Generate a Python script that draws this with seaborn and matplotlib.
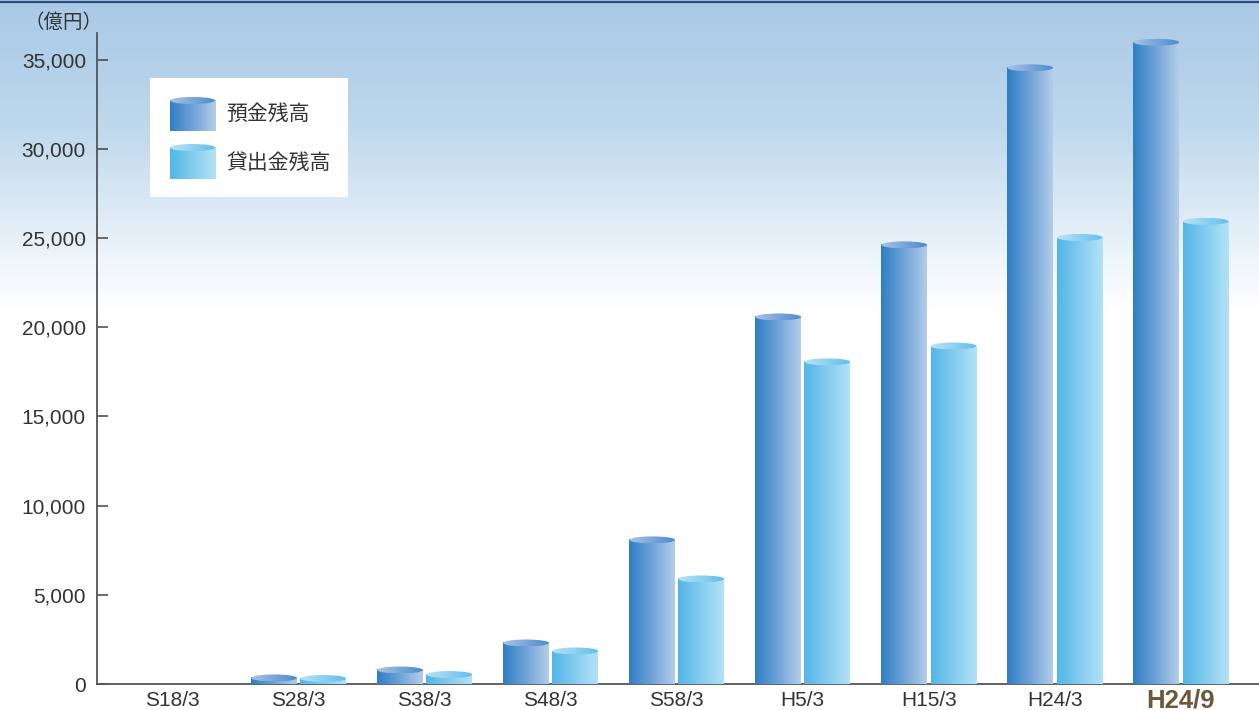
import numpy as np
import pandas as pd
import matplotlib
matplotlib.use("Agg")
import matplotlib.pyplot as plt
import matplotlib.transforms as mtransforms
import seaborn as sns
from matplotlib.colors import to_rgb
from matplotlib.patches import Ellipse, Rectangle
from matplotlib.ticker import FuncFormatter

# ---------------- data ----------------
categories = ["S18/3", "S28/3", "S38/3", "S48/3", "S58/3", "H5/3", "H15/3", "H24/3", "H24/9"]
deposits = [0, 340, 785, 2300, 8080, 20580, 24620, 34550, 35980]
loans = [0, 310, 530, 1850, 5890, 18060, 18950, 25040, 25940]
series = ["預金残高", "貸出金残高"]
yticks = [0, 5000, 10000, 15000, 20000, 25000, 30000, 35000]
unit_label = "（億円）"

# ---------------- style ----------------
sns.set_style("white")
plt.rcParams["font.family"] = ["Liberation Sans", "Noto Sans CJK JP", "DejaVu Sans"]

W, H = 1259, 710
fig = plt.figure(figsize=(W / 100, H / 100), dpi=100)

# background gradient (sky)
bg = fig.add_axes([0, 0, 1, 1], zorder=0)
stops_y = [0, 120, 200, 260, 310, H]
stops_c = ["#a9c9e6", "#bdd7ec", "#d9e8f4", "#eff5fb", "#ffffff", "#ffffff"]
ys = np.arange(H)
cols = np.array([to_rgb(c) for c in stops_c])
img = np.stack([np.interp(ys, stops_y, cols[:, k]) for k in range(3)], axis=-1)
img = np.repeat(img[:, None, :], 4, axis=1)
bg.imshow(img, extent=[0, W, H, 0], aspect="auto", interpolation="bilinear")
bg.plot([0, W], [1.5, 1.5], color="#2d4a7a", lw=1.6)
bg.set_xlim(0, W)
bg.set_ylim(H, 0)
bg.axis("off")

# main axes
ax = fig.add_axes([97 / W, 26 / H, 1 - 97 / W, 651 / H], zorder=1)
ax.patch.set_alpha(0)

df = pd.DataFrame({
    "cat": categories * 2,
    "series": [series[0]] * len(categories) + [series[1]] * len(categories),
    "value": deposits + loans,
})
body_grad = {
    0: ["#2e7fc4", "#6fa3d8", "#b3cde9"],
    1: ["#52b6e7", "#85ccef", "#b1e2f7"],
}
top_grad = {
    0: ["#a9c3e4", "#7ba6da", "#4a8ccf"],
    1: ["#b8e3f7", "#8fd1f1", "#60bfe9"],
}
sns.barplot(data=df, x="cat", y="value", hue="series", order=categories,
            hue_order=series, width=0.78, gap=0.07, saturation=1,
            palette=["#2e7fc4", "#52b6e7"], legend=False, ax=ax)


def grad_array(clist, n=64):
    c = np.array([to_rgb(x) for x in clist])
    t = np.linspace(0, 1, n)
    pos = np.linspace(0, 1, len(clist))
    return np.stack([np.interp(t, pos, c[:, k]) for k in range(3)], axis=-1)[None, :, :]


ell_h = 390  # data units (~7 px)
for si, cont in enumerate(ax.containers):
    for bar in cont:
        x0, w, h = bar.get_x(), bar.get_width(), bar.get_height()
        bar.set_visible(False)
        if h <= 0:
            continue
        ax.imshow(grad_array(body_grad[si]), extent=[x0, x0 + w, 0, h],
                  aspect="auto", zorder=3, interpolation="bilinear")
        ell = Ellipse((x0 + w / 2, h), w, ell_h, transform=ax.transData,
                      facecolor="none", edgecolor="none")
        ax.add_patch(ell)
        im = ax.imshow(grad_array(top_grad[si]),
                       extent=[x0, x0 + w, h - ell_h / 2, h + ell_h / 2],
                       aspect="auto", zorder=4, interpolation="bilinear")
        im.set_clip_path(ell)

ax.set_xlim(-0.6, 8.62)
ax.set_ylim(0, 36500)
ax.set_yticks(yticks)
ax.yaxis.set_major_formatter(FuncFormatter(lambda v, p: f"{int(v):,}"))
ax.set_xlabel("")
ax.set_ylabel("")
for s in ["top", "right"]:
    ax.spines[s].set_visible(False)
for s in ["left", "bottom"]:
    ax.spines[s].set_color("#555555")
    ax.spines[s].set_linewidth(1.3)
ax.tick_params(axis="y", direction="in", length=8, width=1.1, color="#444444",
               pad=8, labelsize=15, labelcolor="#333333", left=True)
ax.tick_params(axis="x", length=0, pad=5, labelsize=15, labelcolor="#333333")
last = ax.get_xticklabels()[-1]
last.set_fontweight("bold")
last.set_fontsize(18.5)
last.set_color("#6e5838")
last.set_transform(last.get_transform() +
                   mtransforms.ScaledTranslation(0, 2.5 / 100, fig.dpi_scale_trans))
ax.grid(False)

fig.text(63 / W, 1 - 22 / H, unit_label, ha="center", va="center", fontsize=14,
         family=["Noto Sans CJK JP"], color="#333333")

# legend box
lg = fig.add_axes([150 / W, 1 - 197 / H, 198 / W, 119 / H], zorder=3)
lg.set_xlim(0, 198)
lg.set_ylim(119, 0)
lg.axis("off")
lg.add_patch(Rectangle((0, 0), 198, 119, facecolor="white", edgecolor="none", zorder=0))
for si, (yc, yb, ty) in enumerate([(22.5, 53, 36), (69.5, 101, 85)]):
    lg.imshow(grad_array(body_grad[si]), extent=[20, 65, yb, yc], aspect="auto",
              zorder=2, interpolation="bilinear")
    e = Ellipse((42.5, yc), 45, 7, transform=lg.transData, facecolor="none", edgecolor="none")
    lg.add_patch(e)
    im = lg.imshow(grad_array(top_grad[si]), extent=[20, 65, yc + 3.5, yc - 3.5],
                   aspect="auto", zorder=3, interpolation="bilinear")
    im.set_clip_path(e)
    lg.text(76, ty, series[si], va="center", ha="left", fontsize=15,
            family=["Noto Sans CJK JP"], color="#333333")
lg.set_xlim(0, 198)
lg.set_ylim(119, 0)

fig.savefig("out.png", dpi=100)
